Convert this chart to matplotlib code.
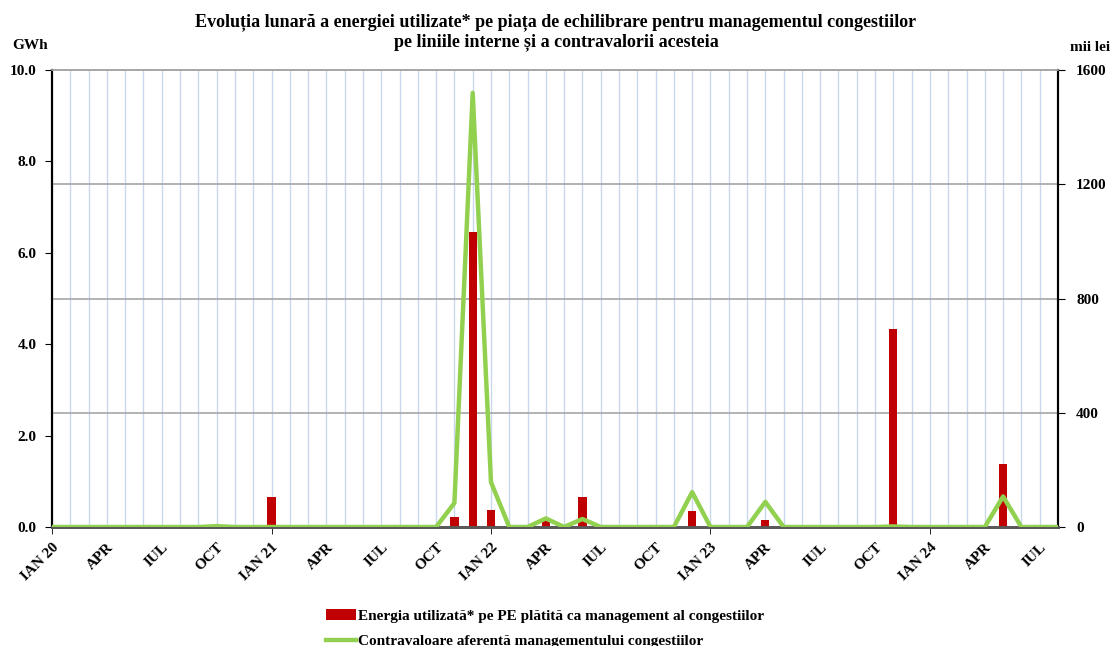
import numpy as np
import matplotlib.pyplot as plt
from matplotlib.ticker import FixedLocator

plt.rcParams['font.family'] = 'Liberation Serif'
plt.rcParams['font.weight'] = 'bold'

# monthly data IAN 2020 .. AUG 2024
month_names = ['IAN', 'FEB', 'MAR', 'APR', 'MAI', 'IUN',
               'IUL', 'AUG', 'SEP', 'OCT', 'NOI', 'DEC']
years = [20, 21, 22, 23, 24]
months = [(m, y) for y in years for m in month_names][:56]

# energy, GWh (non-zero months only)
energy = {'IAN 21': 0.65, 'MAR 21': 0.04, 'NOI 21': 0.22, 'DEC 21': 6.45,
          'IAN 22': 0.37, 'APR 22': 0.15, 'IUN 22': 0.65, 'DEC 22': 0.35,
          'APR 23': 0.15, 'NOI 23': 4.33, 'MAI 24': 1.38}
# value, mii lei (non-zero months only)
value = {'OCT 20': 3, 'NOI 21': 84, 'DEC 21': 1520, 'IAN 22': 157,
         'APR 22': 30, 'IUN 22': 28, 'DEC 22': 122, 'APR 23': 88,
         'NOI 23': 2, 'MAI 24': 107}

keys = [f'{m} {y}' for m, y in months]
energy_vals = [energy.get(k, 0.0) for k in keys]
value_vals = [value.get(k, 0.0) for k in keys]
x = np.arange(len(keys))

tick_labels = []
for i, (m, y) in enumerate(months):
    if m == 'IAN':
        tick_labels.append(f'IAN {y}')
    elif m in ('APR', 'IUL', 'OCT'):
        tick_labels.append(m)
    else:
        tick_labels.append('')

fig = plt.figure(figsize=(11.12, 6.46), dpi=100)
ax = fig.add_axes([0.0468, 0.1842, 0.9046, 0.7074])
ax2 = ax.twinx()

bars = ax.bar(x, energy_vals, width=0.45, color='#C00000', zorder=3,
              label='Energia utilizată* pe PE plătită ca management al congestiilor')
line, = ax2.plot(x, value_vals, color='#92D050', lw=3.2, zorder=4,
                 label='Contravaloare aferentă managementului congestiilor')

ax.set_xlim(0, len(keys) - 1)
ax.set_ylim(0, 10)
ax2.set_ylim(0, 1600)

ax.set_xticks(x)
ax.set_xticklabels(tick_labels, rotation=45, ha='right', rotation_mode='anchor',
                   fontsize=11, fontweight='bold')
ax.tick_params(axis='x', which='major', length=0, pad=10)
ax.xaxis.remove_overlapping_locs = False
ax.xaxis.set_minor_locator(FixedLocator([i for i, (m, y) in enumerate(months) if m == 'IAN']))
ax.tick_params(axis='x', which='minor', length=5, color='black')
ax.grid(axis='x', which='major', color='#C9D7EC', lw=1.0, zorder=0)

ax.set_yticks([0, 2, 4, 6, 8, 10])
ax.set_yticklabels([f'{v:.1f}' for v in [0, 2, 4, 6, 8, 10]], fontsize=11, fontweight='bold')
ax.yaxis.set_minor_locator(FixedLocator([2.5, 5, 7.5]))
ax.tick_params(axis='y', which='minor', length=0)
ax.tick_params(axis='y', which='major', length=5, direction='out', pad=6)
ax.grid(axis='y', which='minor', color='#A6A6A6', lw=1.2, zorder=0)

ax2.set_yticks([0, 400, 800, 1200, 1600])
ax2.set_yticklabels(['0', '400', '800', '1200', '1600'], fontsize=11, fontweight='bold')
ax2.tick_params(axis='y', length=5, direction='out', pad=8)

for a in (ax, ax2):
    a.spines['top'].set_color('#A6A6A6')
    a.spines['top'].set_linewidth(1.2)
    a.spines['bottom'].set_color('#595959')
    a.spines['bottom'].set_linewidth(2)
    a.spines['left'].set_color('black')
    a.spines['left'].set_linewidth(1.5)
    a.spines['right'].set_color('black')
    a.spines['right'].set_linewidth(1.5)
ax.set_axisbelow(True)

fig.text(0.5, 0.980, 'Evoluția lunară a energiei utilizate* pe piața de echilibrare pentru managementul congestiilor\npe liniile interne și a contravalorii acesteia',
         ha='center', va='top', fontsize=13, fontweight='bold', linespacing=1.2)
fig.text(0.027, 0.930, 'GWh', ha='center', va='center', fontsize=11, fontweight='bold')
fig.text(0.980, 0.927, 'mii lei', ha='center', va='center', fontsize=11, fontweight='bold')

fig.legend(handles=[bars, line], loc='lower center', bbox_to_anchor=(0.49, -0.02),
           ncol=1, frameon=False, handlelength=2.0, handletextpad=0.1,
           labelspacing=0.75, borderpad=0.2, prop={'weight': 'bold', 'size': 11})

fig.savefig('out.png', dpi=100)
